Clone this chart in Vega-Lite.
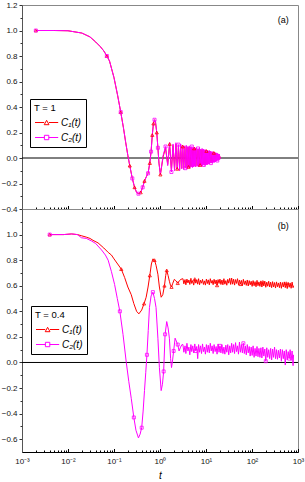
{
 "$schema": "https://vega.github.io/schema/vega-lite/v6.json",
 "padding": {"left": 0, "top": 0, "right": 0, "bottom": 0},
 "config": {
  "view": {"stroke": "#888", "strokeWidth": 1},
  "font": "Liberation Sans",
  "axis": {"labelFont": "Liberation Sans", "labelFontSize": 8, "labelColor": "#111", "domainColor": "#333", "tickColor": "#333", "grid": false, "labelFlush": false, "titleFont": "Liberation Sans"},
  "legend": {"labelFont": "Liberation Sans", "titleFont": "Liberation Sans"}
 },
 "datasets": {
  "curves": [
   {"p":"a","s":"C1","t":0.002,"c":1.0},{"p":"a","s":"C1","t":0.005,"c":1.0},{"p":"a","s":"C1","t":0.01,"c":0.998},{"p":"a","s":"C1","t":0.02,"c":0.98},{"p":"a","s":"C1","t":0.03,"c":0.95},{"p":"a","s":"C1","t":0.04,"c":0.91},{"p":"a","s":"C1","t":0.05,"c":0.875},{"p":"a","s":"C1","t":0.06,"c":0.84},{"p":"a","s":"C1","t":0.07,"c":0.8},{"p":"a","s":"C1","t":0.08,"c":0.76},{"p":"a","s":"C1","t":0.1,"c":0.63},{"p":"a","s":"C1","t":0.12,"c":0.49},{"p":"a","s":"C1","t":0.14,"c":0.36},{"p":"a","s":"C1","t":0.16,"c":0.24},{"p":"a","s":"C1","t":0.18,"c":0.12},{"p":"a","s":"C1","t":0.2,"c":0.02},{"p":"a","s":"C1","t":0.22,"c":-0.06},{"p":"a","s":"C1","t":0.25,"c":-0.16},{"p":"a","s":"C1","t":0.28,"c":-0.23},{"p":"a","s":"C1","t":0.31,"c":-0.27},{"p":"a","s":"C1","t":0.34,"c":-0.28},{"p":"a","s":"C1","t":0.38,"c":-0.27},{"p":"a","s":"C1","t":0.42,"c":-0.23},{"p":"a","s":"C1","t":0.46,"c":-0.18},{"p":"a","s":"C1","t":0.5,"c":-0.15},{"p":"a","s":"C1","t":0.55,"c":-0.12},{"p":"a","s":"C1","t":0.6,"c":-0.04},{"p":"a","s":"C1","t":0.64,"c":0.05},{"p":"a","s":"C1","t":0.68,"c":0.18},{"p":"a","s":"C1","t":0.72,"c":0.27},{"p":"a","s":"C1","t":0.76,"c":0.3},{"p":"a","s":"C1","t":0.8,"c":0.28},{"p":"a","s":"C1","t":0.85,"c":0.2},{"p":"a","s":"C1","t":0.9,"c":0.08},{"p":"a","s":"C1","t":0.95,"c":-0.04},{"p":"a","s":"C1","t":1.02,"c":-0.13},
   {"p":"a","s":"C1","t":1.17,"c":0.01},{"p":"a","s":"C1","t":1.32,"c":0.08},{"p":"a","s":"C1","t":1.47,"c":-0.05},{"p":"a","s":"C1","t":1.62,"c":0.11},{"p":"a","s":"C1","t":1.77,"c":-0.1},{"p":"a","s":"C1","t":1.92,"c":0.1},{"p":"a","s":"C1","t":2.07,"c":-0.09},{"p":"a","s":"C1","t":2.22,"c":0.11},{"p":"a","s":"C1","t":2.37,"c":-0.085},{"p":"a","s":"C1","t":2.52,"c":0.095},{"p":"a","s":"C1","t":2.67,"c":-0.09},{"p":"a","s":"C1","t":2.82,"c":0.1},{"p":"a","s":"C1","t":2.97,"c":-0.08},{"p":"a","s":"C1","t":3.12,"c":0.09},{"p":"a","s":"C1","t":3.27,"c":-0.08},{"p":"a","s":"C1","t":3.42,"c":0.09},{"p":"a","s":"C1","t":3.57,"c":-0.075},{"p":"a","s":"C1","t":3.72,"c":0.09},{"p":"a","s":"C1","t":3.87,"c":-0.075},{"p":"a","s":"C1","t":4.02,"c":0.085},{"p":"a","s":"C1","t":4.17,"c":-0.07},{"p":"a","s":"C1","t":4.32,"c":0.085},{"p":"a","s":"C1","t":4.47,"c":-0.07},{"p":"a","s":"C1","t":4.62,"c":0.08},{"p":"a","s":"C1","t":4.77,"c":-0.065},{"p":"a","s":"C1","t":4.92,"c":0.08},{"p":"a","s":"C1","t":5.07,"c":-0.07},{"p":"a","s":"C1","t":5.22,"c":0.075},{"p":"a","s":"C1","t":5.37,"c":-0.065},{"p":"a","s":"C1","t":5.52,"c":0.075},{"p":"a","s":"C1","t":5.67,"c":-0.06},{"p":"a","s":"C1","t":5.82,"c":0.075},{"p":"a","s":"C1","t":5.97,"c":-0.065},{"p":"a","s":"C1","t":6.22,"c":0.07},{"p":"a","s":"C1","t":6.47,"c":-0.06},{"p":"a","s":"C1","t":6.72,"c":0.07},{"p":"a","s":"C1","t":6.97,"c":-0.06},{"p":"a","s":"C1","t":7.22,"c":0.07},{"p":"a","s":"C1","t":7.47,"c":-0.055},{"p":"a","s":"C1","t":7.72,"c":0.065},{"p":"a","s":"C1","t":7.97,"c":-0.06},{"p":"a","s":"C1","t":8.22,"c":0.065},{"p":"a","s":"C1","t":8.47,"c":-0.055},{"p":"a","s":"C1","t":8.72,"c":0.065},{"p":"a","s":"C1","t":8.97,"c":-0.05},{"p":"a","s":"C1","t":9.22,"c":0.06},{"p":"a","s":"C1","t":9.47,"c":-0.055},{"p":"a","s":"C1","t":9.72,"c":0.06},{"p":"a","s":"C1","t":9.97,"c":-0.045},{"p":"a","s":"C1","t":10.22,"c":0.055},{"p":"a","s":"C1","t":10.47,"c":-0.05},{"p":"a","s":"C1","t":10.72,"c":0.055},{"p":"a","s":"C1","t":10.97,"c":-0.045},{"p":"a","s":"C1","t":11.22,"c":0.05},{"p":"a","s":"C1","t":11.47,"c":-0.04},{"p":"a","s":"C1","t":11.72,"c":0.055},{"p":"a","s":"C1","t":11.97,"c":-0.04},{"p":"a","s":"C1","t":12.4,"c":0.05},{"p":"a","s":"C1","t":12.8,"c":-0.035},{"p":"a","s":"C1","t":13.2,"c":0.045},{"p":"a","s":"C1","t":13.6,"c":-0.035},{"p":"a","s":"C1","t":14.0,"c":0.045},{"p":"a","s":"C1","t":14.4,"c":-0.03},{"p":"a","s":"C1","t":14.8,"c":0.04},{"p":"a","s":"C1","t":15.2,"c":-0.03},{"p":"a","s":"C1","t":15.6,"c":0.04},{"p":"a","s":"C1","t":16.0,"c":-0.025},{"p":"a","s":"C1","t":16.4,"c":0.035},{"p":"a","s":"C1","t":16.8,"c":-0.02},{"p":"a","s":"C1","t":17.2,"c":0.035},{"p":"a","s":"C1","t":17.6,"c":-0.015},{"p":"a","s":"C1","t":18.0,"c":0.03},{"p":"a","s":"C1","t":18.4,"c":-0.015},{"p":"a","s":"C1","t":18.8,"c":0.025},{"p":"a","s":"C1","t":19.2,"c":-0.01},{"p":"a","s":"C1","t":19.6,"c":0.025},{"p":"a","s":"C1","t":20.0,"c":-0.005},{"p":"a","s":"C1","t":20.3,"c":0.01},
   {"p":"a","s":"C2","t":0.002,"c":1.0},{"p":"a","s":"C2","t":0.005,"c":1.0},{"p":"a","s":"C2","t":0.01,"c":0.998},{"p":"a","s":"C2","t":0.02,"c":0.98},{"p":"a","s":"C2","t":0.03,"c":0.95},{"p":"a","s":"C2","t":0.04,"c":0.91},{"p":"a","s":"C2","t":0.05,"c":0.875},{"p":"a","s":"C2","t":0.06,"c":0.84},{"p":"a","s":"C2","t":0.07,"c":0.8},{"p":"a","s":"C2","t":0.08,"c":0.76},{"p":"a","s":"C2","t":0.1,"c":0.63},{"p":"a","s":"C2","t":0.12,"c":0.49},{"p":"a","s":"C2","t":0.14,"c":0.36},{"p":"a","s":"C2","t":0.16,"c":0.24},{"p":"a","s":"C2","t":0.18,"c":0.12},{"p":"a","s":"C2","t":0.2,"c":0.02},{"p":"a","s":"C2","t":0.22,"c":-0.06},{"p":"a","s":"C2","t":0.25,"c":-0.16},{"p":"a","s":"C2","t":0.28,"c":-0.23},{"p":"a","s":"C2","t":0.31,"c":-0.27},{"p":"a","s":"C2","t":0.34,"c":-0.28},{"p":"a","s":"C2","t":0.38,"c":-0.27},{"p":"a","s":"C2","t":0.42,"c":-0.23},{"p":"a","s":"C2","t":0.46,"c":-0.18},{"p":"a","s":"C2","t":0.5,"c":-0.15},{"p":"a","s":"C2","t":0.55,"c":-0.12},{"p":"a","s":"C2","t":0.6,"c":-0.04},{"p":"a","s":"C2","t":0.64,"c":0.05},{"p":"a","s":"C2","t":0.68,"c":0.18},{"p":"a","s":"C2","t":0.72,"c":0.27},{"p":"a","s":"C2","t":0.76,"c":0.3},{"p":"a","s":"C2","t":0.8,"c":0.28},{"p":"a","s":"C2","t":0.85,"c":0.2},{"p":"a","s":"C2","t":0.9,"c":0.08},{"p":"a","s":"C2","t":0.95,"c":-0.04},{"p":"a","s":"C2","t":1.02,"c":-0.13},
   {"p":"a","s":"C2","t":1.17,"c":0.02},{"p":"a","s":"C2","t":1.32,"c":0.09},{"p":"a","s":"C2","t":1.47,"c":-0.06},{"p":"a","s":"C2","t":1.62,"c":0.12},{"p":"a","s":"C2","t":1.77,"c":-0.11},{"p":"a","s":"C2","t":1.92,"c":0.11},{"p":"a","s":"C2","t":2.07,"c":-0.1},{"p":"a","s":"C2","t":2.22,"c":0.12},{"p":"a","s":"C2","t":2.37,"c":-0.09},{"p":"a","s":"C2","t":2.52,"c":0.105},{"p":"a","s":"C2","t":2.67,"c":-0.1},{"p":"a","s":"C2","t":2.82,"c":0.11},{"p":"a","s":"C2","t":2.97,"c":-0.085},{"p":"a","s":"C2","t":3.12,"c":0.1},{"p":"a","s":"C2","t":3.27,"c":-0.09},{"p":"a","s":"C2","t":3.42,"c":0.095},{"p":"a","s":"C2","t":3.57,"c":-0.08},{"p":"a","s":"C2","t":3.72,"c":0.1},{"p":"a","s":"C2","t":3.87,"c":-0.085},{"p":"a","s":"C2","t":4.02,"c":0.09},{"p":"a","s":"C2","t":4.17,"c":-0.075},{"p":"a","s":"C2","t":4.32,"c":0.095},{"p":"a","s":"C2","t":4.47,"c":-0.08},{"p":"a","s":"C2","t":4.62,"c":0.085},{"p":"a","s":"C2","t":4.77,"c":-0.07},{"p":"a","s":"C2","t":4.92,"c":0.09},{"p":"a","s":"C2","t":5.07,"c":-0.075},{"p":"a","s":"C2","t":5.22,"c":0.08},{"p":"a","s":"C2","t":5.37,"c":-0.07},{"p":"a","s":"C2","t":5.52,"c":0.085},{"p":"a","s":"C2","t":5.67,"c":-0.065},{"p":"a","s":"C2","t":5.82,"c":0.08},{"p":"a","s":"C2","t":5.97,"c":-0.07},{"p":"a","s":"C2","t":6.22,"c":0.08},{"p":"a","s":"C2","t":6.47,"c":-0.065},{"p":"a","s":"C2","t":6.72,"c":0.075},{"p":"a","s":"C2","t":6.97,"c":-0.07},{"p":"a","s":"C2","t":7.22,"c":0.08},{"p":"a","s":"C2","t":7.47,"c":-0.06},{"p":"a","s":"C2","t":7.72,"c":0.07},{"p":"a","s":"C2","t":7.97,"c":-0.065},{"p":"a","s":"C2","t":8.22,"c":0.075},{"p":"a","s":"C2","t":8.47,"c":-0.06},{"p":"a","s":"C2","t":8.72,"c":0.07},{"p":"a","s":"C2","t":8.97,"c":-0.055},{"p":"a","s":"C2","t":9.22,"c":0.065},{"p":"a","s":"C2","t":9.47,"c":-0.06},{"p":"a","s":"C2","t":9.72,"c":0.065},{"p":"a","s":"C2","t":9.97,"c":-0.05},{"p":"a","s":"C2","t":10.22,"c":0.06},{"p":"a","s":"C2","t":10.47,"c":-0.055},{"p":"a","s":"C2","t":10.72,"c":0.06},{"p":"a","s":"C2","t":10.97,"c":-0.05},{"p":"a","s":"C2","t":11.22,"c":0.055},{"p":"a","s":"C2","t":11.47,"c":-0.045},{"p":"a","s":"C2","t":11.72,"c":0.06},{"p":"a","s":"C2","t":11.97,"c":-0.045},{"p":"a","s":"C2","t":12.4,"c":0.055},{"p":"a","s":"C2","t":12.8,"c":-0.04},{"p":"a","s":"C2","t":13.2,"c":0.05},{"p":"a","s":"C2","t":13.6,"c":-0.04},{"p":"a","s":"C2","t":14.0,"c":0.05},{"p":"a","s":"C2","t":14.4,"c":-0.035},{"p":"a","s":"C2","t":14.8,"c":0.045},{"p":"a","s":"C2","t":15.2,"c":-0.035},{"p":"a","s":"C2","t":15.6,"c":0.045},{"p":"a","s":"C2","t":16.0,"c":-0.03},{"p":"a","s":"C2","t":16.4,"c":0.04},{"p":"a","s":"C2","t":16.8,"c":-0.025},{"p":"a","s":"C2","t":17.2,"c":0.04},{"p":"a","s":"C2","t":17.6,"c":-0.02},{"p":"a","s":"C2","t":18.0,"c":0.035},{"p":"a","s":"C2","t":18.4,"c":-0.02},{"p":"a","s":"C2","t":18.8,"c":0.03},{"p":"a","s":"C2","t":19.2,"c":-0.015},{"p":"a","s":"C2","t":19.6,"c":0.03},{"p":"a","s":"C2","t":20.0,"c":-0.01},{"p":"a","s":"C2","t":20.3,"c":0.01},
   {"p":"b","s":"C1","t":0.004,"c":1.0},{"p":"b","s":"C1","t":0.008,"c":1.0},{"p":"b","s":"C1","t":0.012,"c":1.005},{"p":"b","s":"C1","t":0.016,"c":1.0},{"p":"b","s":"C1","t":0.02,"c":0.99},{"p":"b","s":"C1","t":0.025,"c":0.98},{"p":"b","s":"C1","t":0.03,"c":0.97},{"p":"b","s":"C1","t":0.035,"c":0.955},{"p":"b","s":"C1","t":0.045,"c":0.935},{"p":"b","s":"C1","t":0.06,"c":0.895},{"p":"b","s":"C1","t":0.075,"c":0.86},{"p":"b","s":"C1","t":0.088,"c":0.84},{"p":"b","s":"C1","t":0.1,"c":0.81},{"p":"b","s":"C1","t":0.12,"c":0.77},{"p":"b","s":"C1","t":0.144,"c":0.73},{"p":"b","s":"C1","t":0.17,"c":0.665},{"p":"b","s":"C1","t":0.2,"c":0.59},{"p":"b","s":"C1","t":0.237,"c":0.53},{"p":"b","s":"C1","t":0.27,"c":0.46},{"p":"b","s":"C1","t":0.31,"c":0.4},{"p":"b","s":"C1","t":0.347,"c":0.38},{"p":"b","s":"C1","t":0.4,"c":0.41},{"p":"b","s":"C1","t":0.45,"c":0.46},{"p":"b","s":"C1","t":0.5,"c":0.51},{"p":"b","s":"C1","t":0.55,"c":0.59},{"p":"b","s":"C1","t":0.6,"c":0.68},{"p":"b","s":"C1","t":0.65,"c":0.77},{"p":"b","s":"C1","t":0.7,"c":0.81},{"p":"b","s":"C1","t":0.76,"c":0.8},{"p":"b","s":"C1","t":0.82,"c":0.76},{"p":"b","s":"C1","t":0.9,"c":0.69},{"p":"b","s":"C1","t":0.97,"c":0.59},{"p":"b","s":"C1","t":1.06,"c":0.51},{"p":"b","s":"C1","t":1.15,"c":0.53},{"p":"b","s":"C1","t":1.25,"c":0.6},{"p":"b","s":"C1","t":1.33,"c":0.68},{"p":"b","s":"C1","t":1.4,"c":0.72},{"p":"b","s":"C1","t":1.5,"c":0.68},{"p":"b","s":"C1","t":1.6,"c":0.635},{"p":"b","s":"C1","t":1.7,"c":0.6},{"p":"b","s":"C1","t":1.78,"c":0.59},{"p":"b","s":"C1","t":1.9,"c":0.62},{"p":"b","s":"C1","t":2.05,"c":0.65},{"p":"b","s":"C1","t":2.2,"c":0.64},{"p":"b","s":"C1","t":2.43,"c":0.62},{"p":"b","s":"C1","t":2.65,"c":0.64},{"p":"b","s":"C1","t":2.85,"c":0.65},
   {"p":"b","s":"C1","t":3.15,"c":0.655},{"p":"b","s":"C1","t":3.3,"c":0.615},{"p":"b","s":"C1","t":3.5,"c":0.648},{"p":"b","s":"C1","t":3.65,"c":0.607},{"p":"b","s":"C1","t":3.85,"c":0.652},{"p":"b","s":"C1","t":4.05,"c":0.622},{"p":"b","s":"C1","t":4.25,"c":0.645},{"p":"b","s":"C1","t":4.45,"c":0.61},{"p":"b","s":"C1","t":4.7,"c":0.658},{"p":"b","s":"C1","t":4.9,"c":0.618},
   {"p":"b","s":"C1","t":5.15,"c":0.64},{"p":"b","s":"C1","t":5.4,"c":0.605},{"p":"b","s":"C1","t":5.7,"c":0.652},{"p":"b","s":"C1","t":6,"c":0.62},{"p":"b","s":"C1","t":6.3,"c":0.647},{"p":"b","s":"C1","t":6.6,"c":0.612},{"p":"b","s":"C1","t":6.9,"c":0.655},{"p":"b","s":"C1","t":7.25,"c":0.608},{"p":"b","s":"C1","t":7.6,"c":0.643},{"p":"b","s":"C1","t":8,"c":0.62},
   {"p":"b","s":"C1","t":8.4,"c":0.65},{"p":"b","s":"C1","t":8.8,"c":0.61},{"p":"b","s":"C1","t":9.25,"c":0.638},{"p":"b","s":"C1","t":9.7,"c":0.605},{"p":"b","s":"C1","t":10.2,"c":0.652},{"p":"b","s":"C1","t":10.7,"c":0.617},{"p":"b","s":"C1","t":11.2,"c":0.646},{"p":"b","s":"C1","t":11.8,"c":0.607},{"p":"b","s":"C1","t":12.4,"c":0.655},{"p":"b","s":"C1","t":13,"c":0.62},
   {"p":"b","s":"C1","t":13.6,"c":0.642},{"p":"b","s":"C1","t":14.3,"c":0.608},{"p":"b","s":"C1","t":15,"c":0.65},{"p":"b","s":"C1","t":15.8,"c":0.615},{"p":"b","s":"C1","t":16.6,"c":0.645},{"p":"b","s":"C1","t":17.4,"c":0.603},{"p":"b","s":"C1","t":18.3,"c":0.648},{"p":"b","s":"C1","t":19.2,"c":0.618},{"p":"b","s":"C1","t":20.1,"c":0.652},{"p":"b","s":"C1","t":21.1,"c":0.61},
   {"p":"b","s":"C1","t":22.2,"c":0.645},{"p":"b","s":"C1","t":23.3,"c":0.607},{"p":"b","s":"C1","t":24.5,"c":0.655},{"p":"b","s":"C1","t":25.7,"c":0.612},{"p":"b","s":"C1","t":27,"c":0.64},{"p":"b","s":"C1","t":28.3,"c":0.604},{"p":"b","s":"C1","t":29.7,"c":0.65},{"p":"b","s":"C1","t":31.2,"c":0.62},{"p":"b","s":"C1","t":32.8,"c":0.658},{"p":"b","s":"C1","t":34.4,"c":0.61},
   {"p":"b","s":"C1","t":36.1,"c":0.66},{"p":"b","s":"C1","t":37.9,"c":0.612},{"p":"b","s":"C1","t":39.8,"c":0.652},{"p":"b","s":"C1","t":41.8,"c":0.605},{"p":"b","s":"C1","t":43.9,"c":0.648},{"p":"b","s":"C1","t":46.1,"c":0.618},{"p":"b","s":"C1","t":48.4,"c":0.655},{"p":"b","s":"C1","t":50.8,"c":0.607},{"p":"b","s":"C1","t":53.4,"c":0.645},{"p":"b","s":"C1","t":56,"c":0.612},
   {"p":"b","s":"C1","t":58.8,"c":0.642},{"p":"b","s":"C1","t":61.8,"c":0.6},{"p":"b","s":"C1","t":64.9,"c":0.65},{"p":"b","s":"C1","t":68.1,"c":0.61},{"p":"b","s":"C1","t":71.5,"c":0.638},{"p":"b","s":"C1","t":75.1,"c":0.603},{"p":"b","s":"C1","t":78.9,"c":0.645},{"p":"b","s":"C1","t":82.8,"c":0.598},{"p":"b","s":"C1","t":87,"c":0.64},{"p":"b","s":"C1","t":91.3,"c":0.607},
   {"p":"b","s":"C1","t":95.9,"c":0.635},{"p":"b","s":"C1","t":100.7,"c":0.595},{"p":"b","s":"C1","t":105.7,"c":0.64},{"p":"b","s":"C1","t":111,"c":0.6},{"p":"b","s":"C1","t":116.5,"c":0.632},{"p":"b","s":"C1","t":122.3,"c":0.592},{"p":"b","s":"C1","t":128.5,"c":0.642},{"p":"b","s":"C1","t":134.9,"c":0.6},{"p":"b","s":"C1","t":141.6,"c":0.63},{"p":"b","s":"C1","t":148.7,"c":0.595},
   {"p":"b","s":"C1","t":156.1,"c":0.638},{"p":"b","s":"C1","t":164,"c":0.59},{"p":"b","s":"C1","t":172.2,"c":0.63},{"p":"b","s":"C1","t":180.8,"c":0.598},{"p":"b","s":"C1","t":189.8,"c":0.636},{"p":"b","s":"C1","t":199.3,"c":0.588},{"p":"b","s":"C1","t":209.3,"c":0.628},{"p":"b","s":"C1","t":219.7,"c":0.596},{"p":"b","s":"C1","t":230.7,"c":0.635},{"p":"b","s":"C1","t":242.3,"c":0.59},
   {"p":"b","s":"C1","t":254.4,"c":0.628},{"p":"b","s":"C1","t":267.1,"c":0.585},{"p":"b","s":"C1","t":280.5,"c":0.632},{"p":"b","s":"C1","t":294.5,"c":0.59},{"p":"b","s":"C1","t":309.2,"c":0.625},{"p":"b","s":"C1","t":324.7,"c":0.582},{"p":"b","s":"C1","t":340.9,"c":0.63},{"p":"b","s":"C1","t":358,"c":0.592},{"p":"b","s":"C1","t":375.9,"c":0.622},{"p":"b","s":"C1","t":394.7,"c":0.585},
   {"p":"b","s":"C1","t":414.4,"c":0.628},{"p":"b","s":"C1","t":435.1,"c":0.58},{"p":"b","s":"C1","t":456.9,"c":0.625},{"p":"b","s":"C1","t":479.7,"c":0.59},{"p":"b","s":"C1","t":503.7,"c":0.63},{"p":"b","s":"C1","t":528.9,"c":0.585},{"p":"b","s":"C1","t":555.3,"c":0.62},{"p":"b","s":"C1","t":583.1,"c":0.578},{"p":"b","s":"C1","t":612.3,"c":0.626},{"p":"b","s":"C1","t":642.9,"c":0.588},
   {"p":"b","s":"C1","t":675,"c":0.622},{"p":"b","s":"C1","t":708.8,"c":0.58},{"p":"b","s":"C1","t":744.2,"c":0.628},{"p":"b","s":"C1","t":781.4,"c":0.585},{"p":"b","s":"C1","t":800,"c":0.6},
   {"p":"b","s":"C2","t":0.004,"c":1.0},{"p":"b","s":"C2","t":0.008,"c":1.0},{"p":"b","s":"C2","t":0.012,"c":1.005},{"p":"b","s":"C2","t":0.016,"c":1.0},{"p":"b","s":"C2","t":0.0197,"c":0.975},{"p":"b","s":"C2","t":0.025,"c":0.97},{"p":"b","s":"C2","t":0.0325,"c":0.95},{"p":"b","s":"C2","t":0.04,"c":0.93},{"p":"b","s":"C2","t":0.0535,"c":0.88},{"p":"b","s":"C2","t":0.065,"c":0.84},{"p":"b","s":"C2","t":0.0746,"c":0.8},{"p":"b","s":"C2","t":0.088,"c":0.71},{"p":"b","s":"C2","t":0.103,"c":0.61},{"p":"b","s":"C2","t":0.118,"c":0.5},{"p":"b","s":"C2","t":0.134,"c":0.4},{"p":"b","s":"C2","t":0.157,"c":0.22},{"p":"b","s":"C2","t":0.185,"c":0.0},{"p":"b","s":"C2","t":0.21,"c":-0.15},{"p":"b","s":"C2","t":0.237,"c":-0.28},{"p":"b","s":"C2","t":0.27,"c":-0.43},{"p":"b","s":"C2","t":0.3,"c":-0.53},{"p":"b","s":"C2","t":0.34,"c":-0.59},{"p":"b","s":"C2","t":0.37,"c":-0.56},{"p":"b","s":"C2","t":0.4,"c":-0.51},{"p":"b","s":"C2","t":0.43,"c":-0.38},{"p":"b","s":"C2","t":0.46,"c":-0.22},{"p":"b","s":"C2","t":0.49,"c":-0.08},{"p":"b","s":"C2","t":0.52,"c":0.06},{"p":"b","s":"C2","t":0.555,"c":0.25},{"p":"b","s":"C2","t":0.59,"c":0.43},{"p":"b","s":"C2","t":0.64,"c":0.52},{"p":"b","s":"C2","t":0.7,"c":0.55},{"p":"b","s":"C2","t":0.76,"c":0.5},{"p":"b","s":"C2","t":0.82,"c":0.43},{"p":"b","s":"C2","t":0.9,"c":0.19},{"p":"b","s":"C2","t":0.97,"c":-0.04},{"p":"b","s":"C2","t":1.06,"c":-0.22},{"p":"b","s":"C2","t":1.13,"c":-0.17},{"p":"b","s":"C2","t":1.2,"c":-0.07},{"p":"b","s":"C2","t":1.29,"c":0.22},{"p":"b","s":"C2","t":1.4,"c":0.32},{"p":"b","s":"C2","t":1.5,"c":0.27},{"p":"b","s":"C2","t":1.6,"c":0.19},{"p":"b","s":"C2","t":1.7,"c":0.03},{"p":"b","s":"C2","t":1.78,"c":-0.04},{"p":"b","s":"C2","t":1.88,"c":0.02},{"p":"b","s":"C2","t":1.98,"c":0.09},{"p":"b","s":"C2","t":2.13,"c":0.19},{"p":"b","s":"C2","t":2.3,"c":0.16},{"p":"b","s":"C2","t":2.43,"c":0.14},{"p":"b","s":"C2","t":2.6,"c":0.09},{"p":"b","s":"C2","t":2.8,"c":0.12},{"p":"b","s":"C2","t":3.0,"c":0.14},
   {"p":"b","s":"C2","t":3.15,"c":0.14},{"p":"b","s":"C2","t":3.3,"c":0.08},{"p":"b","s":"C2","t":3.5,"c":0.13},{"p":"b","s":"C2","t":3.65,"c":0.07},{"p":"b","s":"C2","t":3.85,"c":0.15},{"p":"b","s":"C2","t":4.05,"c":0.09},{"p":"b","s":"C2","t":4.25,"c":0.12},{"p":"b","s":"C2","t":4.45,"c":0.06},{"p":"b","s":"C2","t":4.7,"c":0.14},{"p":"b","s":"C2","t":4.9,"c":0.085},
   {"p":"b","s":"C2","t":5.15,"c":0.13},{"p":"b","s":"C2","t":5.4,"c":0.075},{"p":"b","s":"C2","t":5.7,"c":0.145},{"p":"b","s":"C2","t":6,"c":0.09},{"p":"b","s":"C2","t":6.3,"c":0.125},{"p":"b","s":"C2","t":6.6,"c":0.03},{"p":"b","s":"C2","t":6.9,"c":0.14},{"p":"b","s":"C2","t":7.25,"c":0.08},{"p":"b","s":"C2","t":7.6,"c":0.13},{"p":"b","s":"C2","t":8,"c":0.07},
   {"p":"b","s":"C2","t":8.4,"c":0.145},{"p":"b","s":"C2","t":8.8,"c":0.085},{"p":"b","s":"C2","t":9.25,"c":0.12},{"p":"b","s":"C2","t":9.7,"c":0.065},{"p":"b","s":"C2","t":10.2,"c":0.14},{"p":"b","s":"C2","t":10.7,"c":0.08},{"p":"b","s":"C2","t":11.2,"c":0.135},{"p":"b","s":"C2","t":11.8,"c":0.075},{"p":"b","s":"C2","t":12.4,"c":0.15},{"p":"b","s":"C2","t":13,"c":0.09},
   {"p":"b","s":"C2","t":13.6,"c":0.13},{"p":"b","s":"C2","t":14.3,"c":0.07},{"p":"b","s":"C2","t":15,"c":0.14},{"p":"b","s":"C2","t":15.8,"c":0.085},{"p":"b","s":"C2","t":16.6,"c":0.125},{"p":"b","s":"C2","t":17.4,"c":0.065},{"p":"b","s":"C2","t":18.3,"c":0.145},{"p":"b","s":"C2","t":19.2,"c":0.08},{"p":"b","s":"C2","t":20.1,"c":0.13},{"p":"b","s":"C2","t":21.1,"c":0.075},
   {"p":"b","s":"C2","t":22.2,"c":0.14},{"p":"b","s":"C2","t":23.3,"c":0.07},{"p":"b","s":"C2","t":24.5,"c":0.12},{"p":"b","s":"C2","t":25.7,"c":0.065},{"p":"b","s":"C2","t":27,"c":0.135},{"p":"b","s":"C2","t":28.3,"c":0.08},{"p":"b","s":"C2","t":29.7,"c":0.14},{"p":"b","s":"C2","t":31.2,"c":0.06},{"p":"b","s":"C2","t":32.8,"c":0.13},{"p":"b","s":"C2","t":34.4,"c":0.075},
   {"p":"b","s":"C2","t":36.1,"c":0.15},{"p":"b","s":"C2","t":37.9,"c":0.08},{"p":"b","s":"C2","t":39.8,"c":0.14},{"p":"b","s":"C2","t":41.8,"c":0.07},{"p":"b","s":"C2","t":43.9,"c":0.155},{"p":"b","s":"C2","t":46.1,"c":0.085},{"p":"b","s":"C2","t":48.4,"c":0.13},{"p":"b","s":"C2","t":50.8,"c":0.065},{"p":"b","s":"C2","t":53.4,"c":0.16},{"p":"b","s":"C2","t":56,"c":0.08},
   {"p":"b","s":"C2","t":58.8,"c":0.14},{"p":"b","s":"C2","t":61.8,"c":0.075},{"p":"b","s":"C2","t":64.9,"c":0.15},{"p":"b","s":"C2","t":68.1,"c":0.07},{"p":"b","s":"C2","t":71.5,"c":0.13},{"p":"b","s":"C2","t":75.1,"c":0.06},{"p":"b","s":"C2","t":78.9,"c":0.14},{"p":"b","s":"C2","t":82.8,"c":0.075},{"p":"b","s":"C2","t":87,"c":0.125},{"p":"b","s":"C2","t":91.3,"c":0.05},
   {"p":"b","s":"C2","t":95.9,"c":0.12},{"p":"b","s":"C2","t":100.7,"c":0.055},{"p":"b","s":"C2","t":105.7,"c":0.13},{"p":"b","s":"C2","t":111,"c":0.04},{"p":"b","s":"C2","t":116.5,"c":0.11},{"p":"b","s":"C2","t":122.3,"c":0.05},{"p":"b","s":"C2","t":128.5,"c":0.125},{"p":"b","s":"C2","t":134.9,"c":0.045},{"p":"b","s":"C2","t":141.6,"c":0.11},{"p":"b","s":"C2","t":148.7,"c":0.04},
   {"p":"b","s":"C2","t":156.1,"c":0.115},{"p":"b","s":"C2","t":164,"c":0.035},{"p":"b","s":"C2","t":172.2,"c":0.12},{"p":"b","s":"C2","t":180.8,"c":0.05},{"p":"b","s":"C2","t":189.8,"c":0.105},{"p":"b","s":"C2","t":199.3,"c":0.01},{"p":"b","s":"C2","t":209.3,"c":0.115},{"p":"b","s":"C2","t":219.7,"c":0.04},{"p":"b","s":"C2","t":230.7,"c":0.1},{"p":"b","s":"C2","t":242.3,"c":0.03},
   {"p":"b","s":"C2","t":254.4,"c":0.11},{"p":"b","s":"C2","t":267.1,"c":0.02},{"p":"b","s":"C2","t":280.5,"c":0.105},{"p":"b","s":"C2","t":294.5,"c":0.04},{"p":"b","s":"C2","t":309.2,"c":0.12},{"p":"b","s":"C2","t":324.7,"c":0.03},{"p":"b","s":"C2","t":340.9,"c":0.1},{"p":"b","s":"C2","t":358,"c":0.025},{"p":"b","s":"C2","t":375.9,"c":0.095},{"p":"b","s":"C2","t":394.7,"c":0.035},
   {"p":"b","s":"C2","t":414.4,"c":0.105},{"p":"b","s":"C2","t":435.1,"c":0.01},{"p":"b","s":"C2","t":456.9,"c":0.1},{"p":"b","s":"C2","t":479.7,"c":0.03},{"p":"b","s":"C2","t":503.7,"c":0.09},{"p":"b","s":"C2","t":528.9,"c":-0.02},{"p":"b","s":"C2","t":555.3,"c":0.1},{"p":"b","s":"C2","t":583.1,"c":0.02},{"p":"b","s":"C2","t":612.3,"c":0.085},{"p":"b","s":"C2","t":642.9,"c":0.03},
   {"p":"b","s":"C2","t":675,"c":0.1},{"p":"b","s":"C2","t":708.8,"c":0.015},{"p":"b","s":"C2","t":744.2,"c":0.09},{"p":"b","s":"C2","t":781.4,"c":-0.025},{"p":"b","s":"C2","t":800,"c":0.06}
  ],
  "markers": [
   {"p":"a","s":"C1","t":0.002,"c":1.0},{"p":"a","s":"C1","t":0.07,"c":0.8},{"p":"a","s":"C1","t":0.14,"c":0.36},{"p":"a","s":"C1","t":0.22,"c":-0.06},{"p":"a","s":"C1","t":0.28,"c":-0.23},{"p":"a","s":"C1","t":0.38,"c":-0.27},{"p":"a","s":"C1","t":0.46,"c":-0.18},{"p":"a","s":"C1","t":0.6,"c":-0.04},{"p":"a","s":"C1","t":0.68,"c":0.18},{"p":"a","s":"C1","t":0.72,"c":0.27},{"p":"a","s":"C1","t":0.85,"c":0.2},{"p":"a","s":"C1","t":1.02,"c":-0.13},{"p":"a","s":"C1","t":1.62,"c":0.11},{"p":"a","s":"C1","t":2.37,"c":-0.085},{"p":"a","s":"C1","t":3.12,"c":0.09},{"p":"a","s":"C1","t":4.17,"c":-0.07},{"p":"a","s":"C1","t":5.52,"c":0.075},{"p":"a","s":"C1","t":7.47,"c":-0.055},{"p":"a","s":"C1","t":10.22,"c":0.055},{"p":"a","s":"C1","t":14.8,"c":0.04},
   {"p":"a","s":"C2","t":0.002,"c":1.0},{"p":"a","s":"C2","t":0.07,"c":0.8},{"p":"a","s":"C2","t":0.14,"c":0.36},{"p":"a","s":"C2","t":0.25,"c":-0.16},{"p":"a","s":"C2","t":0.34,"c":-0.28},{"p":"a","s":"C2","t":0.42,"c":-0.23},{"p":"a","s":"C2","t":0.55,"c":-0.12},{"p":"a","s":"C2","t":0.64,"c":0.05},{"p":"a","s":"C2","t":0.76,"c":0.3},{"p":"a","s":"C2","t":0.9,"c":0.08},{"p":"a","s":"C2","t":1.32,"c":0.09},{"p":"a","s":"C2","t":1.77,"c":-0.11},{"p":"a","s":"C2","t":2.52,"c":0.105},{"p":"a","s":"C2","t":3.57,"c":-0.08},{"p":"a","s":"C2","t":4.92,"c":0.09},{"p":"a","s":"C2","t":6.72,"c":0.075},{"p":"a","s":"C2","t":8.97,"c":-0.055},{"p":"a","s":"C2","t":12.8,"c":-0.04},{"p":"a","s":"C2","t":17.6,"c":-0.02},
   {"p":"b","s":"C1","t":0.004,"c":1.0},{"p":"b","s":"C1","t":0.144,"c":0.73},{"p":"b","s":"C1","t":0.45,"c":0.46},{"p":"b","s":"C1","t":0.6,"c":0.68},{"p":"b","s":"C1","t":0.76,"c":0.8},{"p":"b","s":"C1","t":1.25,"c":0.6},{"p":"b","s":"C1","t":1.4,"c":0.72},{"p":"b","s":"C1","t":1.78,"c":0.59},{"p":"b","s":"C1","t":2.43,"c":0.62},{"p":"b","s":"C1","t":5.7,"c":0.652},{"p":"b","s":"C1","t":17.4,"c":0.603},{"p":"b","s":"C1","t":56,"c":0.612},{"p":"b","s":"C1","t":172.2,"c":0.63},{"p":"b","s":"C1","t":555.3,"c":0.62},
   {"p":"b","s":"C2","t":0.004,"c":1.0},{"p":"b","s":"C2","t":0.134,"c":0.4},{"p":"b","s":"C2","t":0.27,"c":-0.43},{"p":"b","s":"C2","t":0.4,"c":-0.51},{"p":"b","s":"C2","t":0.52,"c":0.06},{"p":"b","s":"C2","t":0.7,"c":0.55},{"p":"b","s":"C2","t":1.2,"c":-0.07},{"p":"b","s":"C2","t":1.29,"c":0.22},{"p":"b","s":"C2","t":1.98,"c":0.09},{"p":"b","s":"C2","t":2.43,"c":0.14},{"p":"b","s":"C2","t":6,"c":0.09},{"p":"b","s":"C2","t":20.1,"c":0.13},{"p":"b","s":"C2","t":64.9,"c":0.15},{"p":"b","s":"C2","t":199.3,"c":0.01},{"p":"b","s":"C2","t":642.9,"c":0.03}
  ]
 },
 "spacing": 0,
 "bounds": "flush",
 "resolve": {"scale": {"x": "independent", "y": "independent", "color": "independent", "shape": "independent"}, "legend": {"color": "independent", "shape": "independent"}},
 "vconcat": [
  {
   "width": 276,
   "height": 204,
   "resolve": {"axis": {"x": "independent", "y": "independent"}},
   "layer": [
    {
     "data": {"values": [{}]},
     "mark": {"type": "rule", "color": "#000", "strokeWidth": 1},
     "encoding": {"y": {"datum": 0, "type": "quantitative", "axis": null}}
    },
    {
     "data": {"name": "curves"},
     "transform": [{"filter": "datum.p == 'a' && datum.s == 'C1'"}],
     "mark": {"type": "line", "strokeWidth": 1, "color": "#ff0000"},
     "encoding": {
      "x": {"field": "t", "type": "quantitative", "scale": {"type": "log", "domain": [0.001, 1000]},
            "axis": {"orient": "bottom", "values": [0.001, 0.01, 0.1, 1, 10, 100, 1000], "labels": false, "tickSize": -3.5, "domainColor": "#000", "tickColor": "#000", "title": null}},
      "y": {"field": "c", "type": "quantitative", "scale": {"domain": [-0.4, 1.2], "nice": false, "zero": false},
            "axis": {"orient": "left", "values": [-0.4, -0.2, 0, 0.2, 0.4, 0.6, 0.8, 1.0, 1.2], "format": ".1f", "tickSize": 3, "labelPadding": 2, "title": null, "domainColor": "#555"}}
     }
    },
    {
     "data": {"name": "curves"},
     "transform": [{"filter": "datum.p == 'a' && datum.s == 'C2'"}],
     "mark": {"type": "line", "strokeWidth": 1, "color": "#ff00ff"},
     "encoding": {
      "x": {"field": "t", "type": "quantitative", "axis": null},
      "y": {"field": "c", "type": "quantitative", "axis": null}
     }
    },
    {
     "data": {"name": "markers"},
     "transform": [{"filter": "datum.p == 'a' && datum.s == 'C1'"}],
     "mark": {"type": "point", "shape": "triangle-up", "size": 10, "filled": false, "color": "#ff0000", "strokeWidth": 0.8, "opacity": 1},
     "encoding": {
      "x": {"field": "t", "type": "quantitative", "axis": {"orient": "bottom", "values": [0.002,0.003,0.004,0.005,0.006,0.007,0.008,0.009,0.02,0.03,0.04,0.05,0.06,0.07,0.08,0.09,0.2,0.3,0.4,0.5,0.6,0.7,0.8,0.9,2,3,4,5,6,7,8,9,20,30,40,50,60,70,80,90,200,300,400,500,600,700,800,900], "labels": false, "tickSize": -2, "domain": false, "tickColor": "#000", "title": null}},
      "y": {"field": "c", "type": "quantitative", "axis": {"orient": "left", "values": [-0.3, -0.1, 0.1, 0.3, 0.5, 0.7, 0.9, 1.1], "labels": false, "tickSize": 2, "domain": false, "title": null}}
     }
    },
    {
     "data": {"name": "markers"},
     "transform": [{"filter": "datum.p == 'a' && datum.s == 'C2'"}],
     "mark": {"type": "point", "shape": "square", "size": 9, "filled": false, "color": "#ff00ff", "strokeWidth": 0.8, "opacity": 1},
     "encoding": {
      "x": {"field": "t", "type": "quantitative", "axis": null},
      "y": {"field": "c", "type": "quantitative", "axis": null}
     }
    },
    {
     "data": {"name": "markers"},
     "transform": [{"filter": "false"}],
     "mark": {"type": "point", "filled": false, "strokeWidth": 1, "opacity": 1},
     "encoding": {
      "x": {"field": "t", "type": "quantitative", "axis": null},
      "y": {"field": "c", "type": "quantitative", "axis": null},
      "color": {"field": "s", "type": "nominal", "title": "T = 1",
                "scale": {"domain": ["C1", "C2"], "range": ["#ff0000", "#ff00ff"]},
                "legend": {"orient": "none", "legendX": 8, "legendY": 94, "strokeColor": "#000", "fillColor": "#fff", "padding": 4, "symbolSize": 64, "symbolStrokeWidth": 1, "labelOffset": 17, "labelFontSize": 10, "labelFontStyle": "italic", "titleFontSize": 9.5, "titleFontWeight": "normal", "rowPadding": 5, "titlePadding": 5, "labelExpr": "datum.value == 'C1' ? 'C₁(t)' : 'C₂(t)'"}},
      "shape": {"field": "s", "type": "nominal", "title": "T = 1",
                "scale": {"domain": ["C1", "C2"], "range": ["M-1,0H1.3M2.5,0H4.8M1.3,0.55L1.9,-0.55L2.5,0.55Z", "M-1,0H1.35M2.45,0H4.8M1.35,-0.55H2.45V0.55H1.35Z"]},
                "legend": {"orient": "none", "legendX": 8, "legendY": 94, "strokeColor": "#000", "fillColor": "#fff", "padding": 4, "symbolSize": 64, "symbolStrokeWidth": 1, "labelOffset": 17, "labelFontSize": 10, "labelFontStyle": "italic", "titleFontSize": 9.5, "titleFontWeight": "normal", "rowPadding": 5, "titlePadding": 5, "labelExpr": "datum.value == 'C1' ? 'C₁(t)' : 'C₂(t)'"}}
     }
    },
    {
     "data": {"values": [{}]},
     "mark": {"type": "text", "fontSize": 9, "font": "Liberation Sans", "color": "#000"},
     "encoding": {"x": {"datum": 480, "type": "quantitative", "axis": null}, "y": {"datum": 1.08, "type": "quantitative", "axis": null}, "text": {"value": "(a)"}}
    }
   ]
  },
  {
   "width": 276,
   "height": 243,
   "resolve": {"axis": {"x": "independent", "y": "independent"}},
   "layer": [
    {
     "data": {"values": [{}]},
     "mark": {"type": "rule", "color": "#000", "strokeWidth": 1},
     "encoding": {"y": {"datum": 0, "type": "quantitative", "axis": null}}
    },
    {
     "data": {"name": "curves"},
     "transform": [{"filter": "datum.p == 'b' && datum.s == 'C1'"}],
     "mark": {"type": "line", "strokeWidth": 1, "color": "#ff0000"},
     "encoding": {
      "x": {"field": "t", "type": "quantitative", "scale": {"type": "log", "domain": [0.001, 1000]},
            "axis": {"orient": "bottom", "values": [0.001, 0.01, 0.1, 1, 10, 100, 1000], "tickSize": -3.5, "labelPadding": 9, "labelFontSize": 8, "domainColor": "#000", "tickColor": "#000",
                     "labelExpr": "datum.value < 0.002 ? '10⁻³' : datum.value < 0.02 ? '10⁻²' : datum.value < 0.2 ? '10⁻¹' : datum.value < 2 ? '10⁰' : datum.value < 20 ? '10¹' : datum.value < 200 ? '10²' : '10³'",
                     "title": "t", "titleFontStyle": "italic", "titleFontWeight": "normal", "titleFontSize": 10, "titlePadding": 5}},
      "y": {"field": "c", "type": "quantitative", "scale": {"domain": [-0.7, 1.2], "nice": false, "zero": false},
            "axis": {"orient": "left", "values": [-0.6, -0.4, -0.2, 0, 0.2, 0.4, 0.6, 0.8, 1.0], "format": ".1f", "tickSize": 3, "labelPadding": 2, "title": null, "domainColor": "#555"}}
     }
    },
    {
     "data": {"name": "curves"},
     "transform": [{"filter": "datum.p == 'b' && datum.s == 'C2'"}],
     "mark": {"type": "line", "strokeWidth": 1, "color": "#ff00ff"},
     "encoding": {
      "x": {"field": "t", "type": "quantitative", "axis": null},
      "y": {"field": "c", "type": "quantitative", "axis": null}
     }
    },
    {
     "data": {"name": "markers"},
     "transform": [{"filter": "datum.p == 'b' && datum.s == 'C1'"}],
     "mark": {"type": "point", "shape": "triangle-up", "size": 10, "filled": false, "color": "#ff0000", "strokeWidth": 0.8, "opacity": 1},
     "encoding": {
      "x": {"field": "t", "type": "quantitative", "axis": {"orient": "bottom", "values": [0.002,0.003,0.004,0.005,0.006,0.007,0.008,0.009,0.02,0.03,0.04,0.05,0.06,0.07,0.08,0.09,0.2,0.3,0.4,0.5,0.6,0.7,0.8,0.9,2,3,4,5,6,7,8,9,20,30,40,50,60,70,80,90,200,300,400,500,600,700,800,900], "labels": false, "tickSize": -2, "domain": false, "tickColor": "#000", "title": null}},
      "y": {"field": "c", "type": "quantitative", "axis": {"orient": "left", "values": [-0.5, -0.3, -0.1, 0.1, 0.3, 0.5, 0.7, 0.9, 1.1], "labels": false, "tickSize": 2, "domain": false, "title": null}}
     }
    },
    {
     "data": {"name": "markers"},
     "transform": [{"filter": "datum.p == 'b' && datum.s == 'C2'"}],
     "mark": {"type": "point", "shape": "square", "size": 9, "filled": false, "color": "#ff00ff", "strokeWidth": 0.8, "opacity": 1},
     "encoding": {
      "x": {"field": "t", "type": "quantitative", "axis": null},
      "y": {"field": "c", "type": "quantitative", "axis": null}
     }
    },
    {
     "data": {"name": "markers"},
     "transform": [{"filter": "false"}],
     "mark": {"type": "point", "filled": false, "strokeWidth": 1, "opacity": 1},
     "encoding": {
      "x": {"field": "t", "type": "quantitative", "axis": null},
      "y": {"field": "c", "type": "quantitative", "axis": null},
      "color": {"field": "s", "type": "nominal", "title": "T = 0.4",
                "scale": {"domain": ["C1", "C2"], "range": ["#ff0000", "#ff00ff"]},
                "legend": {"orient": "none", "legendX": 9, "legendY": 97, "strokeColor": "#000", "fillColor": "#fff", "padding": 4, "symbolSize": 64, "symbolStrokeWidth": 1, "labelOffset": 17, "labelFontSize": 10, "labelFontStyle": "italic", "titleFontSize": 9.5, "titleFontWeight": "normal", "rowPadding": 5, "titlePadding": 5, "labelExpr": "datum.value == 'C1' ? 'C₁(t)' : 'C₂(t)'"}},
      "shape": {"field": "s", "type": "nominal", "title": "T = 0.4",
                "scale": {"domain": ["C1", "C2"], "range": ["M-1,0H1.3M2.5,0H4.8M1.3,0.55L1.9,-0.55L2.5,0.55Z", "M-1,0H1.35M2.45,0H4.8M1.35,-0.55H2.45V0.55H1.35Z"]},
                "legend": {"orient": "none", "legendX": 9, "legendY": 97, "strokeColor": "#000", "fillColor": "#fff", "padding": 4, "symbolSize": 64, "symbolStrokeWidth": 1, "labelOffset": 17, "labelFontSize": 10, "labelFontStyle": "italic", "titleFontSize": 9.5, "titleFontWeight": "normal", "rowPadding": 5, "titlePadding": 5, "labelExpr": "datum.value == 'C1' ? 'C₁(t)' : 'C₂(t)'"}}
     }
    },
    {
     "data": {"values": [{}]},
     "mark": {"type": "text", "fontSize": 9, "font": "Liberation Sans", "color": "#000"},
     "encoding": {"x": {"datum": 480, "type": "quantitative", "axis": null}, "y": {"datum": 1.065, "type": "quantitative", "axis": null}, "text": {"value": "(b)"}}
    }
   ]
  }
 ]
}
